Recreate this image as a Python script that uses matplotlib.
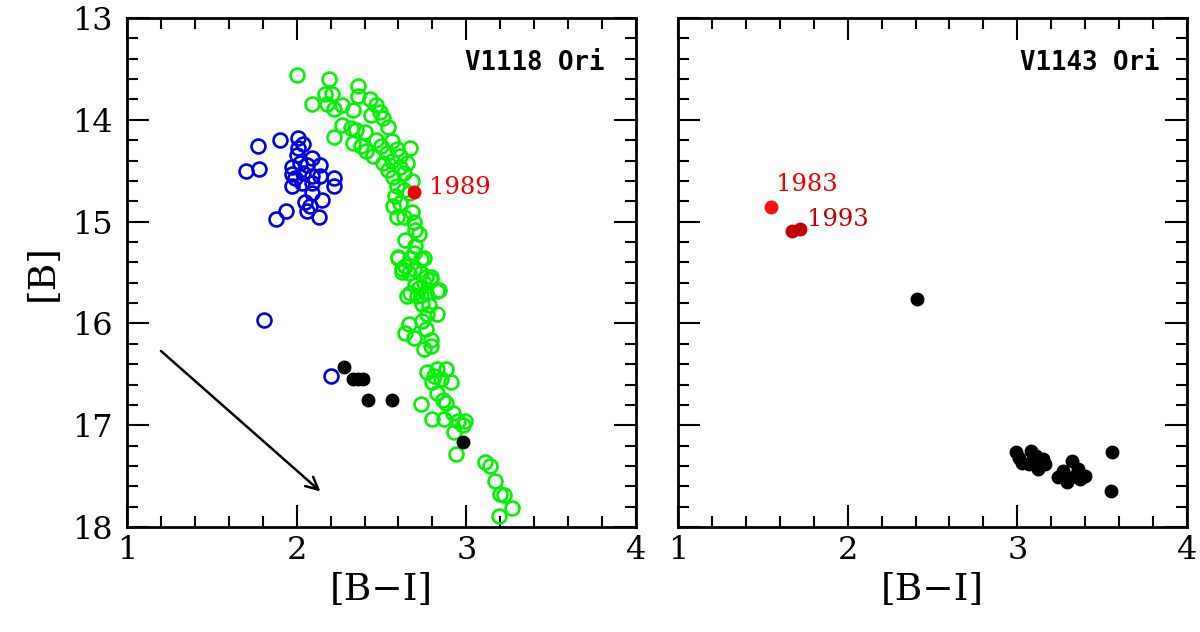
import matplotlib
matplotlib.use("Agg")
import matplotlib.pyplot as plt
from matplotlib.ticker import MultipleLocator

# ---------------- data ----------------
green_bi = [2.00, 2.19, 2.36, 2.09, 2.17, 2.21, 2.18, 2.22, 2.27, 2.33, 2.36,
            2.43, 2.47, 2.49, 2.44, 2.51, 2.54, 2.27, 2.32, 2.35, 2.22,
            2.33, 2.38, 2.41, 2.45, 2.47, 2.50, 2.53, 2.56, 2.59, 2.61, 2.67,
            2.51, 2.54, 2.57, 2.61, 2.65, 2.63,
            2.59, 2.63, 2.58, 2.61, 2.57, 2.59, 2.63, 2.68, 2.69, 2.70,
            2.64, 2.70, 2.60, 2.67, 2.73, 2.62, 2.69, 2.76, 2.79, 2.84, 2.67, 2.73,
            2.60, 2.64, 2.69, 2.75, 2.62, 2.66, 2.73, 2.79, 2.75, 2.72, 2.83, 2.65,
            2.71, 2.76, 2.74, 2.83, 2.77, 2.66, 2.64, 2.69, 2.74, 2.79, 2.75, 2.79,
            2.77, 2.83, 2.88, 2.80, 2.85, 2.91, 2.83, 2.86, 2.88, 2.92, 2.95, 2.99,
            2.73, 2.80, 2.87, 2.93, 2.94, 3.11, 3.14, 3.17, 3.20, 3.22, 3.27, 3.19,
            2.40, 2.68, 2.72, 2.78, 2.70, 2.76, 2.81, 2.98, 2.66, 2.56]
green_b = [13.56, 13.60, 13.67, 13.84, 13.75, 13.75, 13.84, 13.89, 13.85, 13.90, 13.77,
           13.80, 13.85, 13.92, 13.95, 13.98, 14.07, 14.05, 14.08, 14.10, 14.17,
           14.23, 14.26, 14.31, 14.36, 14.20, 14.26, 14.33, 14.21, 14.29, 14.36, 14.28,
           14.42, 14.49, 14.56, 14.46, 14.42, 14.52,
           14.65, 14.69, 14.75, 14.82, 14.85, 14.95, 14.95, 14.91, 15.00, 15.08,
           15.18, 15.24, 15.36, 15.36, 15.37, 15.47, 15.47, 15.54, 15.57, 15.67, 15.70, 15.72,
           15.35, 15.44, 15.31, 15.36, 15.49, 15.50, 15.50, 15.54, 15.60, 15.65, 15.68, 15.73,
           15.73, 15.70, 15.81, 15.91, 15.91, 16.01, 16.09, 16.14, 15.98, 16.16, 16.25, 16.22,
           16.48, 16.45, 16.45, 16.58, 16.55, 16.58, 16.68, 16.75, 16.78, 16.88, 16.96, 16.96,
           16.79, 16.94, 16.94, 17.07, 17.28, 17.36, 17.40, 17.55, 17.68, 17.69, 17.81, 17.89,
           14.12, 14.60, 15.12, 15.82, 15.62, 16.05, 16.52, 17.00, 14.72, 14.40]

blue_bi = [1.77, 1.90, 1.70, 1.78, 2.01, 2.04, 2.01, 1.97, 2.02, 2.06, 2.09, 2.14,
           1.97, 1.99, 2.04, 2.09, 2.14, 1.97, 2.03, 2.09, 2.22, 2.22, 2.09, 2.15,
           2.05, 2.08, 2.06, 2.13, 1.94, 1.88, 2.00, 1.81, 2.20]
blue_b = [14.26, 14.20, 14.50, 14.48, 14.18, 14.24, 14.28, 14.46, 14.42, 14.44, 14.38, 14.44,
          14.53, 14.57, 14.52, 14.55, 14.55, 14.65, 14.62, 14.62, 14.57, 14.65, 14.72, 14.79,
          14.81, 14.85, 14.90, 14.95, 14.90, 14.97, 14.35, 15.97, 16.52]

black_left_bi = [2.28, 2.33, 2.36, 2.39, 2.42, 2.56, 2.98]
black_left_b = [16.43, 16.55, 16.55, 16.55, 16.75, 16.75, 17.16]

red_left_bi = [2.69]
red_left_b = [14.71]

red83_bi = [1.55]
red83_b = [14.86]
red93_bi = [1.67, 1.72]
red93_b = [15.09, 15.07]

black_right_bi = [2.41, 2.99, 3.01, 3.03, 3.08, 3.11, 3.15, 3.16, 3.12, 3.07, 3.09,
                  3.32, 3.27, 3.24, 3.29, 3.34, 3.37, 3.40, 3.36, 3.56, 3.55]
black_right_b = [15.76, 17.26, 17.32, 17.37, 17.25, 17.30, 17.33, 17.38, 17.43, 17.38, 17.34,
                 17.35, 17.45, 17.51, 17.56, 17.50, 17.53, 17.50, 17.43, 17.26, 17.65]

arrow_start = (1.20, 16.27)
arrow_end = (2.14, 17.65)

# ---------------- figure ----------------
serif = ["DejaVu Serif"]
plt.rcParams["font.family"] = serif

fig = plt.figure(figsize=(12, 6.32), dpi=100)
axL = fig.add_axes([0.1058, 0.1661, 0.4242, 0.8054])
axR = fig.add_axes([0.5650, 0.1661, 0.4242, 0.8054])

for ax in (axL, axR):
    ax.set_xlim(1, 4)
    ax.set_ylim(18, 13)
    ax.xaxis.set_major_locator(MultipleLocator(1))
    ax.xaxis.set_minor_locator(MultipleLocator(0.2))
    ax.yaxis.set_major_locator(MultipleLocator(1))
    ax.yaxis.set_minor_locator(MultipleLocator(0.2))
    ax.tick_params(which="both", direction="in", top=True, right=True,
                   width=1.5, color="black")
    ax.tick_params(which="major", length=16, labelsize=23)
    ax.tick_params(axis="x", which="major", pad=6)
    ax.tick_params(axis="y", which="major", pad=10)
    ax.tick_params(which="minor", length=8)
    for s in ax.spines.values():
        s.set_linewidth(2)
    ax.set_xlabel("[B\u2212I]", fontsize=27, labelpad=4)

axR.tick_params(labelleft=False)
axL.set_ylabel("[B]", fontsize=27, labelpad=8)

ms = 10
axL.plot(green_bi, green_b, "o", ms=ms, mfc="none", mec="#00f000", mew=1.9, ls="none")
axL.plot(blue_bi, blue_b, "o", ms=ms, mfc="none", mec="#0000dd", mew=1.9, ls="none")
axL.plot(black_left_bi, black_left_b, "o", ms=9, color="black", ls="none")
axL.plot(red_left_bi, red_left_b, "o", ms=9, color="#ee0000", ls="none")
axL.text(2.78, 14.66, "1989", color="#ee0000", fontsize=17.5, va="center", ha="left")
axL.annotate("", xy=arrow_end, xytext=arrow_start,
             arrowprops=dict(arrowstyle="->", lw=1.8, color="black",
                             mutation_scale=22, shrinkA=0, shrinkB=0))
axL.text(0.939, 0.912, "V1118 Ori", transform=axL.transAxes, ha="right", va="center",
         fontsize=18.5, fontweight="bold", family="DejaVu Sans Mono")

axR.plot(red83_bi, red83_b, "o", ms=9, color="#ff1010", ls="none")
axR.plot(red93_bi, red93_b, "o", ms=9, color="#c00000", ls="none")
axR.plot(black_right_bi, black_right_b, "o", ms=9, color="black", ls="none")
axR.text(1.58, 14.75, "1983", color="#ee0000", fontsize=17.5, va="bottom", ha="left")
axR.text(1.76, 14.98, "1993", color="#bb0000", fontsize=17.5, va="center", ha="left")
axR.text(0.945, 0.912, "V1143 Ori", transform=axR.transAxes, ha="right", va="center",
         fontsize=18.5, fontweight="bold", family="DejaVu Sans Mono")

fig.savefig("out.png", dpi=100)
